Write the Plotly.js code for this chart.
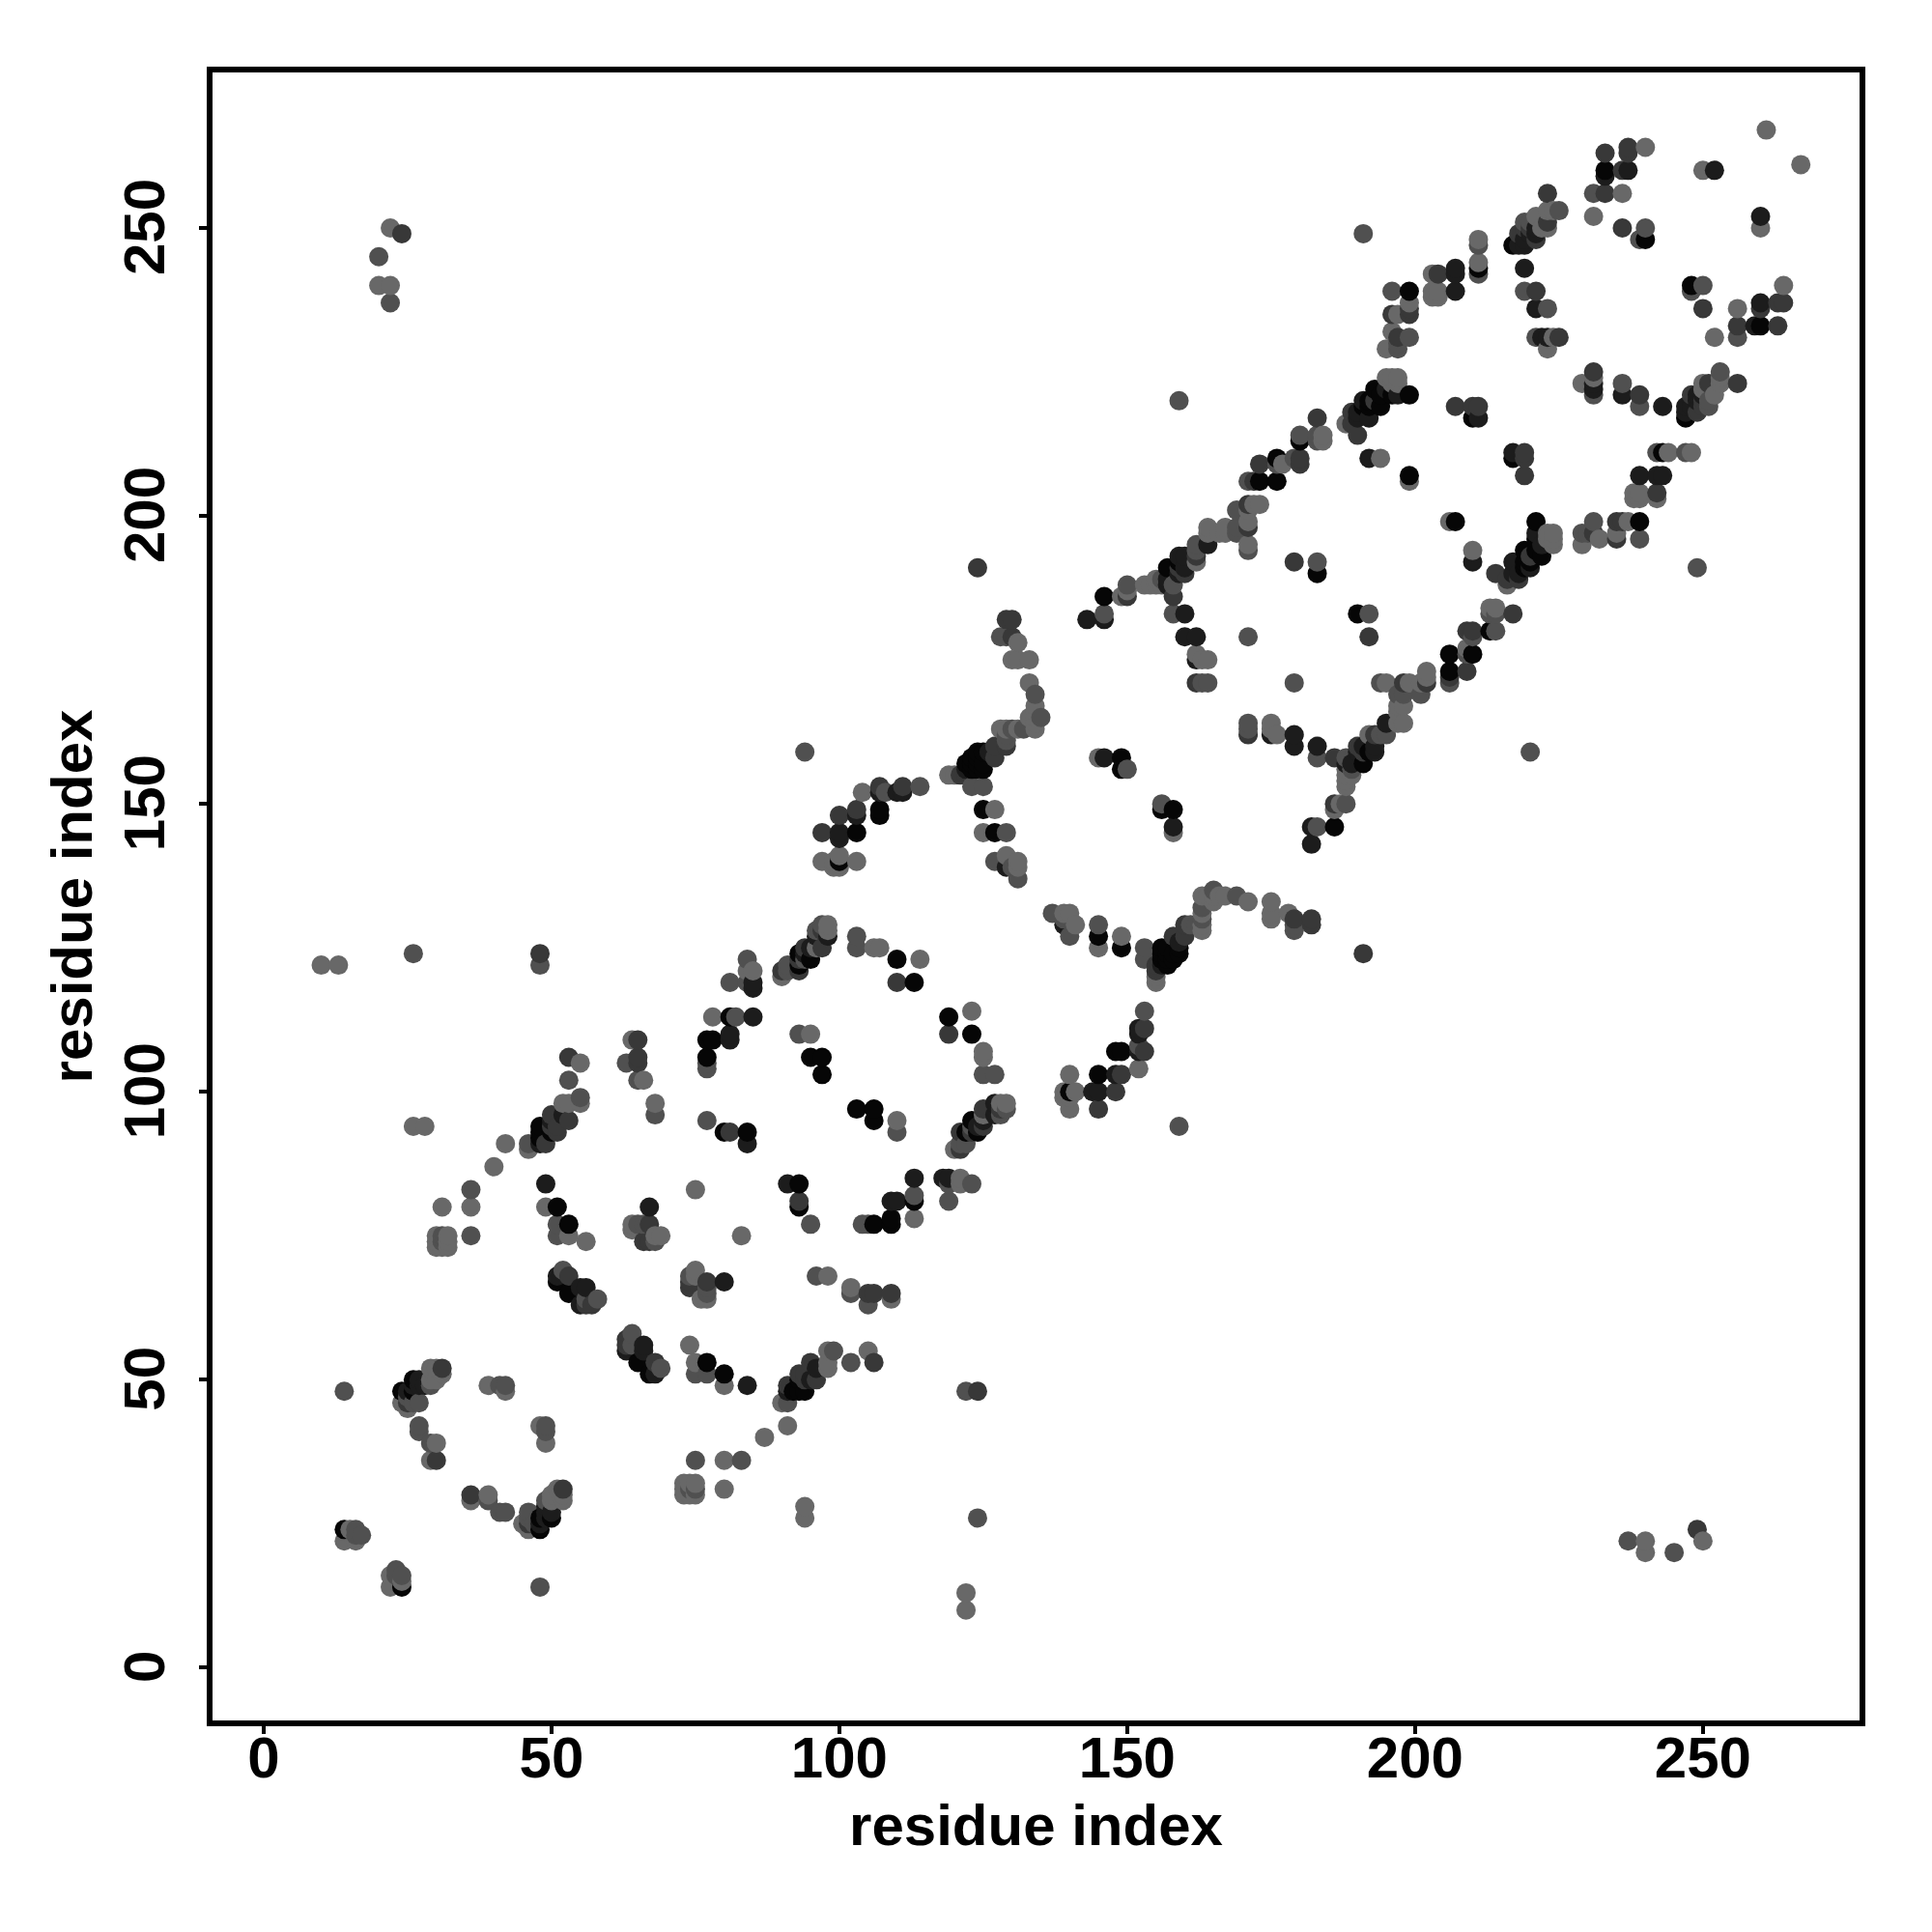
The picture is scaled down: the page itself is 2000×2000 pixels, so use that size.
<!DOCTYPE html>
<html>
<head>
<meta charset="utf-8">
<script src="https://cdn.plot.ly/plotly-3.0.1.min.js"></script>
<style>html,body{margin:0;padding:0;background:#fff}</style>
</head>
<body>
<div id="chart" style="width:2000px;height:2000px"></div>
<script>
// Residue contacts [i, j], grouped by their grey level. The map is symmetric.
const contactsLight = [[10,122],[13,122],[14,22],[15,24],[16,22],[20,240],[22,240],[22,250],[24,46],[25,45],[26,94],[28,94],[29,36],[29,50],[29,52],[30,39],[30,50],[30,52],[31,51],[30,73],[30,74],[30,75],[31,73],[32,73],[32,74],[32,75],[31,80],[36,80],[39,49],[40,87],[42,48],[42,91],[46,90],[49,80],[53,75],[56,74],[64,76],[64,77],[68,75],[69,75],[75,83],[52,98],[53,98],[55,98],[55,105],[64,109],[66,102],[68,98],[78,113],[84,121],[85,121],[90,120],[96,125],[98,128],[98,129],[106,125],[107,125],[114,123],[95,110],[97,140],[99,139],[99,140],[100,139],[100,141],[103,140],[104,152],[119,155],[120,155],[127,149],[125,145],[129,141],[131,140],[131,139],[128,163],[129,163],[131,163],[134,163],[134,164],[133,165],[134,165],[134,166],[134,167],[133,171],[133,175],[130,175],[131,175],[131,178],[145,158],[149,186],[150,187],[153,188],[154,188],[155,188],[155,189],[156,188],[162,192],[162,176],[163,175],[164,175],[164,197],[164,198],[166,197],[167,197],[167,198],[171,199],[171,195],[172,202],[173,202],[171,201],[184,213],[184,214],[188,216],[194,210],[195,224],[195,229],[196,223],[196,224],[196,232],[197,223],[197,224],[197,235],[199,206],[199,237],[177,209],[203,238],[203,239],[203,242],[204,238],[204,239],[211,244],[211,248],[221,252],[222,250],[223,229],[223,250],[223,253],[224,231],[224,253],[231,252],[236,256],[240,264],[250,260],[261,267]];
const contactsMid = [[14,48],[16,23],[16,24],[17,23],[20,245],[22,237],[26,46],[26,124],[25,47],[27,41],[27,42],[27,46],[29,39],[29,49],[31,74],[31,75],[36,75],[36,83],[41,49],[42,49],[46,91],[48,122],[51,75],[51,77],[52,69],[53,102],[55,99],[56,64],[58,64],[63,105],[65,77],[65,102],[66,77],[68,74],[68,96],[77,95],[77,104],[77,105],[81,119],[82,113],[84,119],[84,123],[91,121],[91,122],[93,110],[94,123],[94,159],[96,128],[97,129],[103,125],[103,127],[108,152],[114,153],[123,153],[125,153],[129,145],[130,139],[127,140],[129,162],[129,161],[130,163],[132,163],[135,165],[134,169],[128,179],[129,179],[131,137],[146,183],[150,156],[150,188],[156,189],[158,183],[158,188],[159,220],[162,194],[162,195],[169,197],[169,198],[169,201],[171,163],[171,164],[171,179],[163,171],[164,171],[171,194],[171,206],[176,209],[179,210],[180,214],[183,192],[183,213],[183,214],[191,249],[196,239],[199,231],[197,229],[197,230],[219,239],[219,251],[220,251],[221,231],[223,236],[225,253],[211,242],[211,247],[231,256],[239,248],[240,250]];
const contactsDark = [[24,249],[25,46],[30,36],[31,52],[48,124],[49,91],[50,94],[50,96],[51,93],[51,94],[53,68],[53,95],[53,106],[56,63],[57,63],[65,105],[65,106],[65,109],[66,74],[67,74],[67,77],[81,93],[90,121],[93,121],[93,123],[94,125],[97,125],[97,128],[97,145],[100,148],[103,149],[107,153],[110,119],[111,153],[121,155],[122,155],[124,191],[127,158],[127,160],[129,160],[130,179],[129,182],[130,182],[150,186],[158,186],[159,191],[160,190],[162,171],[162,193],[171,198],[171,202],[172,206],[173,209],[179,192],[180,209],[180,210],[183,217],[189,216],[189,218],[190,214],[193,220],[196,235],[197,231],[199,235],[199,236],[204,242],[207,219],[210,219],[211,219],[218,249],[219,250],[220,250],[221,239],[221,248],[223,251],[223,256],[225,231],[233,256],[233,263],[236,250],[236,260],[237,263],[237,264]];
const contactsNear = [[25,48],[26,49],[27,49],[27,50],[28,49],[48,91],[49,84],[50,95],[51,68],[52,96],[55,63],[55,66],[56,66],[67,80],[81,109],[81,110],[84,91],[85,113],[85,118],[85,119],[95,125],[94,124],[96,127],[98,127],[100,144],[100,145],[103,148],[107,152],[110,152],[111,152],[122,156],[126,159],[129,139],[143,182],[146,158],[146,182],[157,188],[157,189],[159,190],[159,193],[160,191],[160,193],[160,183],[160,179],[162,179],[162,175],[164,195],[190,217],[190,218],[191,220],[192,210],[192,217],[195,222],[197,221],[207,239],[207,242],[207,243],[211,217],[218,247],[219,243],[219,247],[219,248],[220,249],[221,236],[221,249],[221,250],[222,231],[223,231],[233,259],[237,260],[252,260]];
const contactsBlack = [[14,24],[24,48],[26,48],[26,50],[48,92],[48,93],[48,94],[50,93],[51,67],[51,80],[53,65],[53,77],[77,106],[77,109],[78,109],[80,93],[81,113],[84,93],[93,122],[93,124],[95,106],[95,123],[97,103],[97,106],[100,140],[110,123],[113,119],[103,145],[107,148],[107,149],[122,157],[123,156],[123,157],[123,158],[124,156],[124,157],[124,158],[124,159],[125,149],[125,156],[125,157],[125,159],[127,145],[146,186],[149,156],[149,158],[157,191],[159,192],[176,206],[176,210],[173,206],[180,213],[183,190],[191,219],[192,219],[192,220],[193,222],[194,219],[194,221],[196,221],[199,207],[199,221],[199,239],[210,217],[211,243],[217,247],[233,260],[240,248]];
const greyLevels = [104, 80, 56, 28, 6];
const tickValues = [0, 50, 100, 150, 200, 250];
const tickLabels = ['0', '50', '100', '150', '200', '250'];
const axisTitle = 'residue index';

const groups = [contactsLight, contactsMid, contactsDark, contactsNear, contactsBlack];
const seen = new Set();
const points = [];
function add(a, b, g) {
  const key = a + ',' + b;
  if (seen.has(key)) return;
  seen.add(key);
  points.push({a, b, g});
}
groups.forEach(function (list, k) {
  list.forEach(function (p) {
    add(p[0], p[1], greyLevels[k]);
    add(p[1], p[0], greyLevels[k]);
  });
});
points.sort(function (p, q) { return p.a - q.a || p.b - q.b; });

const font = {family: '"Liberation Sans", Arial, sans-serif', size: 60, color: '#000', weight: 'bold'};
function axis(range, standoff, labelStandoff, angle, labelShift) {
  return {
    range: range, autorange: false, tickmode: 'array', tickvals: tickValues, ticktext: tickLabels,
    tickangle: angle, ticks: 'outside', ticklen: 8, tickwidth: 4, tickcolor: '#000',
    showline: true, mirror: true, linewidth: 6, linecolor: '#000',
    showgrid: false, zeroline: false, automargin: false,
    tickfont: font, ticklabelstandoff: labelStandoff, ticklabelshift: labelShift,
    title: {text: axisTitle, font: font, standoff: standoff}
  };
}
Plotly.newPlot('chart', [{
  type: 'scatter', mode: 'markers',
  x: points.map(function (p) { return p.a; }),
  y: points.map(function (p) { return p.b; }),
  cliponaxis: true, hoverinfo: 'skip',
  marker: {
    size: 20, opacity: 1, line: {width: 0},
    color: points.map(function (p) { return 'rgb(' + p.g + ',' + p.g + ',' + p.g + ')'; })
  }
}], {
  width: 2000, height: 2000, autosize: false, showlegend: false,
  paper_bgcolor: '#fff', plot_bgcolor: '#fff',
  margin: {l: 220, r: 75, t: 75, b: 219, pad: 0},
  xaxis: axis([-8.88, 277.2], 18, -27, 0, 0),
  yaxis: axis([-9.16, 277.0], 3, 12, -90, 8)
}, {displayModeBar: false, staticPlot: true});
</script>
</body>
</html>
